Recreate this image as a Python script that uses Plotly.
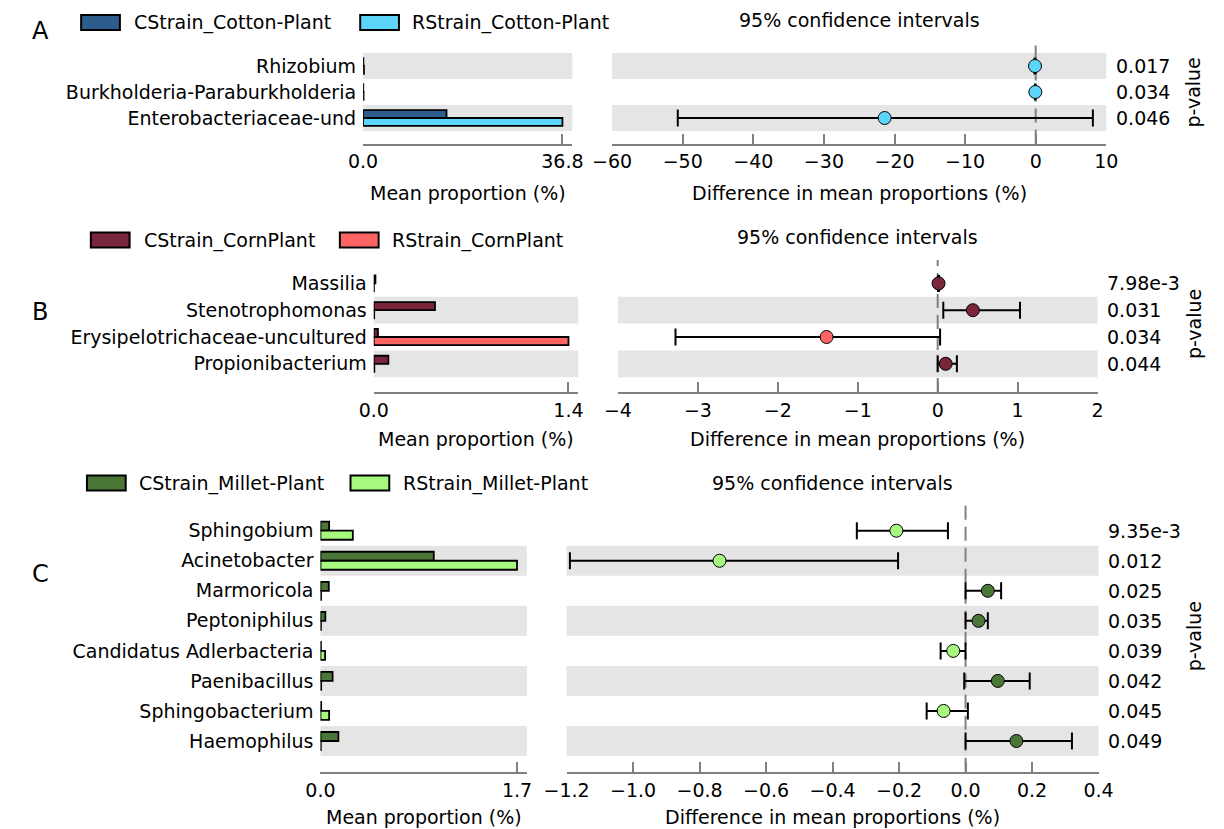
import plotly.graph_objects as go

# ---------------- data ----------------
a_taxa = ["Rhizobium", "Burkholderia-Paraburkholderia", "Enterobacteriaceae-und"]
a_groups = ["CStrain_Cotton-Plant", "RStrain_Cotton-Plant"]
a_mean_c = [0.05, 0.03, 15.4]
a_mean_r = [0.15, 0.08, 36.8]
a_diff = [-0.1, -0.05, -21.4]
a_ci_low = [-0.17, -0.09, -50.7]
a_ci_high = [-0.03, -0.01, 8.1]
a_pvalue = ["0.017", "0.034", "0.046"]

b_taxa = ["Massilia", "Stenotrophomonas", "Erysipelotrichaceae-uncultured", "Propionibacterium"]
b_groups = ["CStrain_CornPlant", "RStrain_CornPlant"]
b_mean_c = [0.012, 0.44, 0.03, 0.105]
b_mean_r = [0.001, 0.003, 1.4, 0.004]
b_diff = [0.011, 0.44, -1.39, 0.10]
b_ci_low = [0.004, 0.07, -3.28, 0.0]
b_ci_high = [0.018, 1.03, 0.03, 0.24]
b_pvalue = ["7.98e-3", "0.031", "0.034", "0.044"]

c_taxa = ["Sphingobium", "Acinetobacter", "Marmoricola", "Peptoniphilus",
          "Candidatus Adlerbacteria", "Paenibacillus", "Sphingobacterium", "Haemophilus"]
c_groups = ["CStrain_Millet-Plant", "RStrain_Millet-Plant"]
c_mean_c = [0.075, 0.98, 0.072, 0.042, 0.004, 0.105, 0.006, 0.155]
c_mean_r = [0.28, 1.7, 0.005, 0.004, 0.04, 0.006, 0.075, 0.003]
c_diff = [-0.208, -0.74, 0.067, 0.039, -0.037, 0.097, -0.066, 0.153]
c_ci_low = [-0.327, -1.19, 0.0, 0.0, -0.075, -0.004, -0.117, 0.0]
c_ci_high = [-0.053, -0.203, 0.107, 0.067, 0.0, 0.193, 0.007, 0.32]
c_pvalue = ["9.35e-3", "0.012", "0.025", "0.035", "0.039", "0.042", "0.045", "0.049"]

# ---------------- style / layout ----------------
W, H = 1224, 829
FONT = "DejaVu Sans"
FS = 19
AXIS_GREY = "#808080"
BAND = "#e5e5e5"


def fx(px):
    return px / W


def fy(py):
    return 1 - py / H


panels = [
    dict(letter="A", taxa=a_taxa, groups=a_groups, c=a_mean_c, r=a_mean_r, d=a_diff,
         lo=a_ci_low, hi=a_ci_high, p=a_pvalue, colors=("#2c5d8c", "#5dd5fa"),
         ci_range=(-60, 10), ci_dtick=10, ci_fmt="",
         bar_px=(351, 567), ci_px=(608, 1118), top=53, row_h=26.0, axis_y=143.5,
         letter_y=31, leg_y=22.5, leg_c=(60, 113), leg_r=(348, 399), xlab_dy=49),
    dict(letter="B", taxa=b_taxa, groups=b_groups, c=b_mean_c, r=b_mean_r, d=b_diff,
         lo=b_ci_low, hi=b_ci_high, p=b_pvalue, colors=("#7a263a", "#ff6464"),
         ci_range=(-4, 2), ci_dtick=1, ci_fmt="",
         bar_px=(362, 573), ci_px=(614, 1109), top=270, row_h=26.8, axis_y=392,
         letter_y=312, leg_y=240, leg_c=(70, 123), leg_r=(327, 379), xlab_dy=47),
    dict(letter="C", taxa=c_taxa, groups=c_groups, c=c_mean_c, r=c_mean_r, d=c_diff,
         lo=c_ci_low, hi=c_ci_high, p=c_pvalue, colors=("#4a7638", "#a6f87e"),
         ci_range=(-1.2, 0.4), ci_dtick=0.2, ci_fmt=".1f",
         bar_px=(307, 520), ci_px=(561, 1110), top=515.7, row_h=30.04, axis_y=771.7,
         letter_y=574, leg_y=483, leg_c=(66, 118), leg_r=(338, 390), xlab_dy=45),
]

fig = go.Figure()
shapes = []
annotations = []
layout_axes = {}

for i, P in enumerate(panels):
    kb, kc = 2 * i + 1, 2 * i + 2
    xb = "x" if kb == 1 else f"x{kb}"
    yb = "y" if kb == 1 else f"y{kb}"
    xc, yc = f"x{kc}", f"y{kc}"
    n = len(P["taxa"])
    rows = list(range(n))
    col_c, col_r = P["colors"]
    gap = (P["axis_y"] - (P["top"] + n * P["row_h"])) / P["row_h"]
    yrange = [n - 0.5 + gap, -0.5]
    ydom = [fy(P["axis_y"]), fy(P["top"])]

    # bars
    fig.add_trace(go.Bar(x=P["c"], y=rows, orientation="h", width=0.3, offset=-0.3,
                         marker=dict(color=col_c, line=dict(color="black", width=1.8)),
                         xaxis=xb, yaxis=yb, name=P["groups"][0], hoverinfo="x"))
    fig.add_trace(go.Bar(x=P["r"], y=rows, orientation="h", width=0.3, offset=0.0,
                         marker=dict(color=col_r, line=dict(color="black", width=1.8)),
                         xaxis=xb, yaxis=yb, name=P["groups"][1], hoverinfo="x"))

    # CI points
    pt_colors = [col_c if v > 0 else col_r for v in P["d"]]
    fig.add_trace(go.Scatter(
        x=P["d"], y=rows, mode="markers", xaxis=xc, yaxis=yc,
        marker=dict(size=13, color=pt_colors, line=dict(color="black", width=1)),
        error_x=dict(type="data", symmetric=False,
                     array=[h - v for h, v in zip(P["hi"], P["d"])],
                     arrayminus=[v - l for v, l in zip(P["d"], P["lo"])],
                     color="black", thickness=2, width=8.5),
        hoverinfo="x"))

    maxv = max(P["c"] + P["r"])
    layout_axes["xaxis" if kb == 1 else f"xaxis{kb}"] = dict(
        domain=[fx(P["bar_px"][0]), fx(P["bar_px"][1])], anchor=yb,
        range=[0, maxv * 1.05], tickvals=[0, maxv], ticktext=[f"{0:.1f}", f"{maxv:.1f}"],
        showline=True, linecolor=AXIS_GREY, linewidth=2, ticks="inside", ticklen=10,
        tickcolor=AXIS_GREY, tickwidth=1.5, showgrid=False, zeroline=False,
        tickfont=dict(size=FS, color="black"), fixedrange=True)
    layout_axes["yaxis" if kb == 1 else f"yaxis{kb}"] = dict(
        domain=ydom, anchor=xb, range=yrange, tickvals=rows, ticktext=P["taxa"],
        showline=False, showgrid=False, zeroline=False, ticks="",
        ticklabelstandoff=6, tickfont=dict(size=FS, color="black"), fixedrange=True)
    xc_ax = dict(
        domain=[fx(P["ci_px"][0]), fx(P["ci_px"][1])], anchor=yc,
        range=list(P["ci_range"]), tick0=P["ci_range"][0], dtick=P["ci_dtick"],
        showline=True, linecolor=AXIS_GREY, linewidth=2, ticks="inside", ticklen=10,
        tickcolor=AXIS_GREY, tickwidth=1.5, showgrid=False, zeroline=False,
        tickfont=dict(size=FS, color="black"), fixedrange=True)
    if P["ci_fmt"]:
        xc_ax["tickformat"] = P["ci_fmt"]
    layout_axes[f"xaxis{kc}"] = xc_ax
    layout_axes[f"yaxis{kc}"] = dict(
        domain=ydom, anchor=xc, range=yrange, showticklabels=False,
        showline=False, showgrid=False, zeroline=False, ticks="", fixedrange=True)

    # alternating bands
    for rr in rows:
        if (n - 1 - rr) % 2 == 0:
            for xr, yr in ((xb, yb), (xc, yc)):
                shapes.append(dict(type="rect", xref=f"{xr} domain", yref=yr,
                                   x0=0, x1=1, y0=rr - 0.5, y1=rr + 0.5,
                                   fillcolor=BAND, line=dict(width=0), layer="below"))
    # zero dashed line
    shapes.append(dict(type="line", xref=xc, yref="paper", x0=0, x1=0,
                       y0=fy(P["axis_y"]), y1=fy(P["top"] - 10),
                       line=dict(color=AXIS_GREY, width=2, dash="14px,7px"), layer="below"))

    # legend (manual)
    for (bx, tx), col, name in ((P["leg_c"], col_c, P["groups"][0]),
                                (P["leg_r"], col_r, P["groups"][1])):
        shapes.append(dict(type="rect", xref="paper", yref="paper",
                           x0=fx(bx), x1=fx(bx + 40), y0=fy(P["leg_y"] + 7.5), y1=fy(P["leg_y"] - 7.5),
                           fillcolor=col, line=dict(color="black", width=2)))
        annotations.append(dict(text=name, xref="paper", yref="paper", x=fx(tx), y=fy(P["leg_y"]),
                                xanchor="left", yanchor="middle", showarrow=False,
                                font=dict(size=FS, color="black")))

    # titles / labels
    cmid = (P["ci_px"][0] + P["ci_px"][1]) / 2
    bmid = (P["bar_px"][0] + P["bar_px"][1]) / 2
    annotations.append(dict(text="95% confidence intervals", xref="paper", yref="paper",
                            x=fx(cmid), y=fy(P["top"] - 33), xanchor="center", yanchor="middle",
                            showarrow=False, font=dict(size=FS, color="black")))
    annotations.append(dict(text="Mean proportion (%)", xref="paper", yref="paper",
                            x=fx(bmid), y=fy(P["axis_y"] + P["xlab_dy"]), xanchor="center",
                            yanchor="middle", showarrow=False, font=dict(size=FS, color="black")))
    annotations.append(dict(text="Difference in mean proportions (%)", xref="paper", yref="paper",
                            x=fx(cmid), y=fy(P["axis_y"] + P["xlab_dy"]), xanchor="center",
                            yanchor="middle", showarrow=False, font=dict(size=FS, color="black")))
    annotations.append(dict(text=P["letter"], xref="paper", yref="paper",
                            x=fx(18), y=fy(P["letter_y"]), xanchor="center", yanchor="middle",
                            showarrow=False, font=dict(size=24, color="black")))
    rows_mid = P["top"] + n * P["row_h"] / 2
    annotations.append(dict(text="p-value", xref="paper", yref="paper", textangle=-90,
                            x=fx(1208), y=fy(rows_mid), xanchor="center", yanchor="middle",
                            showarrow=False, font=dict(size=FS, color="black")))
    for rr, pv in zip(rows, P["p"]):
        annotations.append(dict(text=pv, xref="paper", yref=yc, x=fx(P["ci_px"][1] + 8), y=rr,
                                xanchor="left", yanchor="middle", showarrow=False,
                                font=dict(size=FS, color="black")))

fig.update_layout(
    width=W, height=H, margin=dict(l=0, r=0, t=0, b=0),
    paper_bgcolor="white", plot_bgcolor="white", showlegend=False,
    font=dict(family=FONT, size=FS, color="black"),
    barmode="overlay", shapes=shapes, annotations=annotations, **layout_axes)

fig.write_html("out.html")
